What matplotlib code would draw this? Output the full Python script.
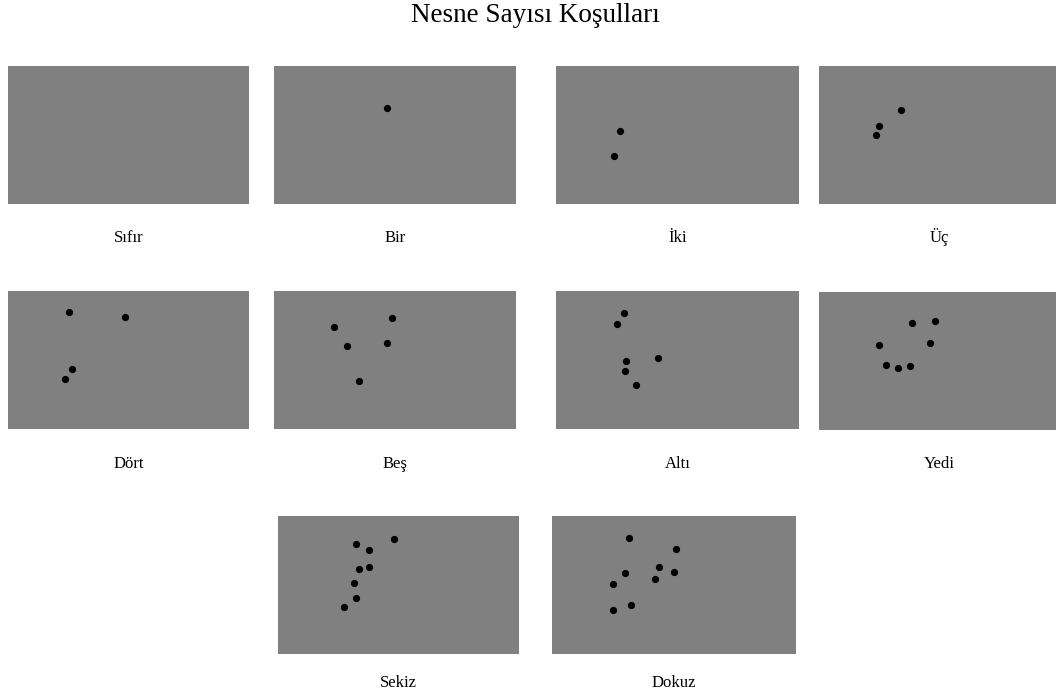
import matplotlib.pyplot as plt

plt.rcParams['font.family'] = ['Liberation Serif', 'DejaVu Serif']

# data: dot positions inside each 240x138 stimulus (pixels from top-left)
labels = ['Sıfır', 'Bir', 'İki', 'Üç', 'Dört', 'Beş', 'Altı', 'Yedi', 'Sekiz', 'Dokuz']
dots_x = [
    [],
    [113],
    [64, 58],
    [82, 60, 57],
    [61, 117, 64, 57],
    [118, 60, 73, 113, 85],
    [68, 61, 102, 70, 69, 80],
    [93, 116, 60, 111, 67, 79, 91],
    [116, 78, 91, 81, 91, 76, 78, 66],
    [77, 124, 107, 122, 73, 103, 61, 79, 61],
]
dots_y = [
    [],
    [42],
    [65, 90],
    [44, 60, 69],
    [21, 26, 78, 88],
    [27, 36, 55, 52, 90],
    [22, 33, 67, 70, 80, 94],
    [31, 29, 53, 51, 73, 76, 74],
    [23, 28, 34, 53, 51, 67, 82, 91],
    [22, 33, 51, 56, 57, 63, 68, 89, 94],
]

# layout in pixels: left, top, width, height, label baseline
W, H = 1056, 696
boxes = [
    (8, 66, 241, 138, 242),
    (274, 66, 242, 138, 242),
    (556, 66, 243, 138, 242),
    (819, 66, 241, 138, 242),
    (8, 291, 241, 138, 468),
    (274, 291, 242, 138, 468),
    (556, 291, 243, 138, 468),
    (819, 292, 241, 138, 468),
    (278, 516, 241, 138, 687),
    (552, 516, 244, 138, 687),
]

fig = plt.figure(figsize=(W / 100, H / 100), dpi=100)
fig.patch.set_facecolor('white')

for i in range(len(labels)):
    l, t, w, h, lb = boxes[i]
    ax = fig.add_axes([l / W, 1 - (t + h) / H, w / W, h / H])
    ax.set_facecolor('#808080')
    ax.set_xlim(0, w)
    ax.set_ylim(h, 0)
    ax.plot(dots_x[i], dots_y[i], 'o', color='black', markersize=4.2,
            linestyle='none')
    ax.set_xticks([])
    ax.set_yticks([])
    for s in ax.spines.values():
        s.set_visible(False)
    fig.text((l + w / 2) / W, 1 - lb / H, labels[i], ha='center',
             va='baseline', fontsize=12)

fig.text(535 / W, 1 - 22 / H, 'Nesne Sayısı Koşulları', ha='center',
         va='baseline', fontsize=19.5)

plt.savefig('out.png', dpi=100)
